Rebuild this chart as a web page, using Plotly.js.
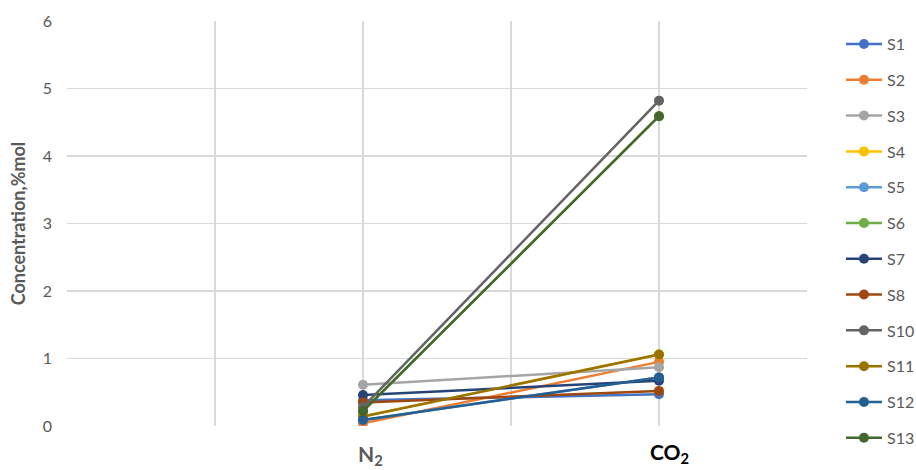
<!DOCTYPE html>
<html>
<head>
<meta charset="utf-8">
<script src="https://cdn.plot.ly/plotly-3.0.1.min.js"></script>
<style>html,body{margin:0;padding:0;background:#fff;}#chart{width:916px;height:470px;}</style>
</head>
<body>
<div id="chart"></div>
<script>
// Category axis (points sit on tick marks); only two categories are labelled
var categoryPositions = [0, 1, 2, 3, 4, 5];
var gasPositions = [2, 4];
var gasLabels = ["N<sub>2</sub>", "CO<sub>2</sub>"];

var seriesNames = ["S1", "S2", "S3", "S4", "S5", "S6", "S7", "S8", "S10", "S11", "S12", "S13"];
var S1  = [0.38, 0.47];
var S2  = [0.04, 0.95];
var S3  = [0.61, 0.87];
var S4  = [0.14, 1.06];
var S5  = [0.09, 0.72];
var S6  = [0.22, 4.59];
var S7  = [0.46, 0.67];
var S8  = [0.35, 0.52];
var S10 = [0.28, 4.82];
var S11 = [0.14, 1.06];
var S12 = [0.09, 0.72];
var S13 = [0.22, 4.59];
var seriesValues = [S1, S2, S3, S4, S5, S6, S7, S8, S10, S11, S12, S13];
var seriesColors = ["#4472C4", "#ED7D31", "#A5A5A5", "#FFC000", "#5B9BD5", "#70AD47",
                    "#264478", "#9E480E", "#636363", "#997300", "#255E91", "#43682B"];

var traces = seriesNames.map(function (name, i) {
  return {
    type: "scatter",
    mode: "lines+markers",
    name: name,
    legendgroup: name,
    x: gasPositions,
    y: seriesValues[i],
    line: {color: seriesColors[i], width: 2.5},
    marker: {color: seriesColors[i], size: 10}
  };
});

// category label styling (label colour / offsets as in the original)
var labelColors = ["#595959", "#000000"];
var labelYShift = [-13, -11];
var labelXShift = [7, 10];
var annotations = gasLabels.map(function (t, i) {
  return {
    text: t, x: gasPositions[i], xref: "x", y: 0, yref: "paper",
    yanchor: "top", xanchor: "center", showarrow: false,
    xshift: labelXShift[i], yshift: labelYShift[i],
    font: {size: 21, weight: "bold", color: labelColors[i], family: "Lato, sans-serif"}
  };
});

var layout = {
  width: 916,
  height: 470,
  margin: {l: 67, r: 109, t: 21, b: 44, autoexpand: false},
  paper_bgcolor: "#ffffff",
  plot_bgcolor: "#ffffff",
  font: {family: "Lato, 'Open Sans', sans-serif", color: "#595959"},
  showlegend: true,
  legend: {
    x: 1.0459, xanchor: "left", y: 0.985, yanchor: "top",
    font: {size: 16, color: "#595959"},
    tracegroupgap: 12,
    itemwidth: 36,
    maxheight: 470,
    bgcolor: "rgba(0,0,0,0)"
  },
  annotations: annotations,
  xaxis: {
    range: [0, 5],
    tickmode: "array",
    tickvals: categoryPositions,
    ticktext: categoryPositions.map(function () { return ""; }),
    showgrid: true,
    gridcolor: "#d9d9d9",
    gridwidth: 1.5,
    zeroline: false,
    showline: false,
    ticks: "",
    fixedrange: true
  },
  yaxis: {
    range: [0, 6],
    dtick: 1,
    showgrid: true,
    gridcolor: "#d9d9d9",
    gridwidth: 1.5,
    zeroline: false,
    showline: false,
    ticks: "",
    tickfont: {size: 16, color: "#595959"},
    ticklabelstandoff: 14,
    title: {text: "Concentration,%mol", font: {size: 18, weight: "bold", color: "#595959"}, standoff: 12},
    fixedrange: true
  }
};

Plotly.newPlot("chart", traces, layout, {displayModeBar: false, staticPlot: true});
</script>
</body>
</html>
